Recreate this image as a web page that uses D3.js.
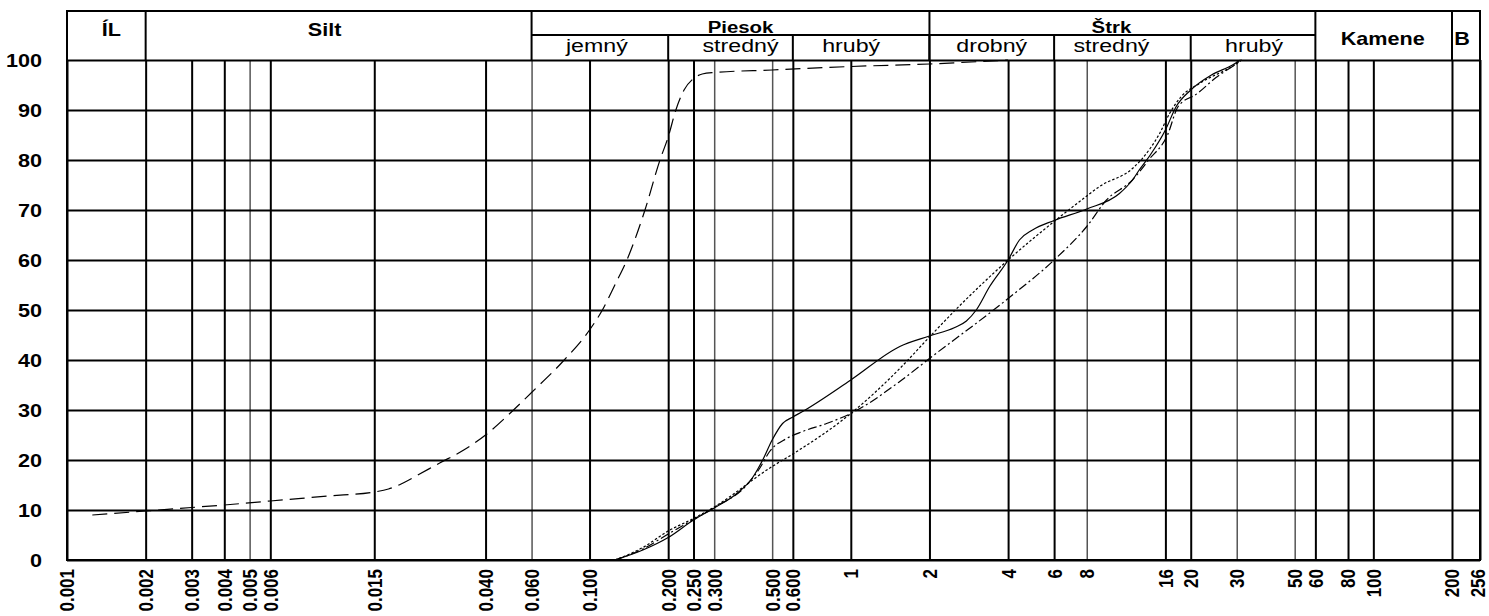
<!DOCTYPE html>
<html>
<head>
<meta charset="utf-8">
<script src="https://cdn.jsdelivr.net/npm/d3@7"></script>
<style>
  body { margin: 0; background: #fff; }
  svg { font-family: "Liberation Sans", Arial, sans-serif; }
</style>
</head>
<body>
<script>
// Grain sizes (mm) on the x axis and their labels
const sizes = [0.001, 0.002, 0.003, 0.004, 0.005, 0.006, 0.015, 0.040, 0.060, 0.100,
  0.200, 0.250, 0.300, 0.500, 0.600, 1, 2, 4, 6, 8, 16, 20, 30, 50, 60, 80, 100, 200, 256];
const sizeLabels = ["0.001", "0.002", "0.003", "0.004", "0.005", "0.006", "0.015", "0.040", "0.060", "0.100",
  "0.200", "0.250", "0.300", "0.500", "0.600", "1", "2", "4", "6", "8", "16", "20", "30", "50", "60", "80", "100", "200", "256"];
const percents = [0, 10, 20, 30, 40, 50, 60, 70, 80, 90, 100];

// Soil fractions in the header
const zoneNames = ["ÍL", "Silt", "Piesok", "Štrk", "Kamene", "B"];
const zoneEdges = [0.001, 0.002, 0.06, 2, 60, 200, 256];
const subNames = ["jemný", "stredný", "hrubý", "drobný", "stredný", "hrubý"];
const subEdges = [0.06, 0.2, 0.6, 2, 6, 20, 60];

// Grading curves: [grain size mm, passing %]
const sampleA = [[0.00125, 9], [0.002, 9.8], [0.003, 10.5], [0.004, 11], [0.006, 11.8], [0.01, 12.8],
  [0.015, 13.6], [0.017, 14.2], [0.019, 15.2], [0.022, 17], [0.0267, 19.4], [0.033, 22], [0.04, 25],
  [0.05, 29.5], [0.06, 33.5], [0.08, 40], [0.1, 46], [0.112, 50], [0.125, 55], [0.139, 60], [0.163, 70],
  [0.186, 80], [0.2, 84.6], [0.214, 90], [0.23, 94], [0.25, 96.3], [0.27, 97.2], [0.3, 97.5], [0.5, 98],
  [1, 98.7], [2, 99.2], [4, 100]];
const sampleB = [[0.125, 0], [0.16, 2], [0.2, 4.5], [0.25, 8], [0.3, 10.4], [0.36, 13], [0.421, 16.5],
  [0.46, 20], [0.5, 24], [0.548, 27.3], [0.6, 28.6], [0.654, 29.7], [1, 36], [1.54, 42.7], [2, 44.8],
  [2.5, 46.5], [2.77, 47.8], [3.02, 50], [3.4, 54.7], [4, 60], [4.42, 64], [4.96, 66], [6, 67.9], [8, 70.2],
  [10.67, 73.3], [11.97, 76], [12.7, 78], [14, 81], [16, 86], [17.6, 90.7], [20, 94], [24, 97], [28.9, 99], [31, 100]];
const sampleC = [[0.125, 0], [0.16, 2.5], [0.2, 5.8], [0.25, 8.3], [0.3, 10.6], [0.5, 18.7], [0.6, 21.2],
  [1, 29.3], [1.54, 38.3], [2, 44.6], [2.46, 49.5], [4, 60], [6, 67.7], [8, 72.8], [8.95, 74.7],
  [11.97, 78.3], [12.9, 80], [15.2, 85.3], [16.6, 89.3], [18.4, 92.7], [21.6, 95.3], [30, 99.3], [31.3, 100]];
const sampleD = [[0.125, 0], [0.16, 2.2], [0.2, 5.2], [0.25, 8.1], [0.3, 10.5], [0.4, 15], [0.45, 18.5],
  [0.489, 21.7], [0.568, 24.3], [0.654, 25.7], [0.808, 27.3], [1, 29.3], [1.54, 35.7], [2, 40.3], [4, 52.3],
  [6, 60], [8, 66.7], [9.52, 72], [11.97, 76], [13.8, 80], [16.3, 85], [17.9, 90.7], [21.2, 93.3],
  [25, 96.5], [30, 99.3], [31.3, 100]];

const width = 1489, height = 616;
const headerTop = 11, headerMid = 35;

const svg = d3.select("body").append("svg")
  .attr("width", width)
  .attr("height", height);

const x = d3.scaleLog().domain([0.001, 256]).range([67, 1480]);
const y = d3.scaleLinear().domain([0, 100]).range([560, 60]);

// thinner, lighter grid lines
const thinLines = new Set([0.005, 0.06, 0.3, 0.5, 8, 30, 50]);

// vertical grid + rotated size labels
svg.append("g")
  .attr("transform", `translate(0,${y(0)})`)
  .call(d3.axisBottom(x)
    .tickValues(sizes)
    .tickFormat((d, i) => sizeLabels[i])
    .tickSize(-(y(0) - y(100)))
    .tickSizeOuter(0))
  .call(g => g.select(".domain").remove())
  .call(g => g.selectAll(".tick line")
    .attr("stroke", d => thinLines.has(d) ? "#555" : "#000")
    .attr("stroke-width", d => thinLines.has(d) ? 1.5 : 2))
  .call(g => g.selectAll(".tick text")
    .attr("x", null).attr("y", null)
    .attr("dy", d => d === 256 ? "-0.15em" : null)
    .attr("transform", "translate(0,9) scale(1.15,1) rotate(-90)")
    .attr("text-anchor", "end")
    .attr("dominant-baseline", "central")
    .attr("fill", "#000")
    .style("font-size", "17px")
    .style("font-weight", "bold"));

// horizontal grid + percent labels
svg.append("g")
  .attr("transform", `translate(${x(0.001)},0)`)
  .call(d3.axisLeft(y)
    .tickValues(percents)
    .tickSize(-(x(256) - x(0.001)))
    .tickSizeOuter(0))
  .call(g => g.select(".domain").remove())
  .call(g => g.selectAll(".tick line").attr("stroke", "#000").attr("stroke-width", 2))
  .call(g => g.selectAll(".tick text")
    .attr("x", null)
    .attr("transform", "translate(-25,1) scale(1.2,1)")
    .attr("text-anchor", "end")
    .attr("fill", "#000")
    .style("font-size", "18px")
    .style("font-weight", "bold"));

// frame and header
const frame = svg.append("g").attr("stroke", "#000").attr("stroke-width", 2);
frame.append("line")
  .attr("x1", x(0.001) - 1).attr("x2", x(256) + 1)
  .attr("y1", headerTop).attr("y2", headerTop);
frame.append("line")
  .attr("x1", x(0.001) - 1).attr("x2", x(256) + 1)
  .attr("y1", y(0)).attr("y2", y(0));
frame.append("line")
  .attr("x1", x(0.06)).attr("x2", x(60))
  .attr("y1", headerMid).attr("y2", headerMid);
frame.selectAll(".edge")
  .data(zoneEdges)
  .join("line")
  .attr("x1", d => x(d)).attr("x2", d => x(d))
  .attr("y1", headerTop)
  .attr("y2", (d, i) => (i === 0 || i === zoneEdges.length - 1) ? y(0) : y(100));
frame.selectAll(".subedge")
  .data(subEdges.slice(1, -1))
  .join("line")
  .attr("x1", d => x(d)).attr("x2", d => x(d))
  .attr("y1", headerMid).attr("y2", y(100));

// header labels
const zoneBaseline = { "ÍL": 36, "Silt": 36, "Piesok": 33, "Štrk": 33, "Kamene": 45, "B": 45 };
const zoneShift = { "ÍL": 5, "Silt": -14, "Piesok": 10, "Štrk": -11, "Kamene": -1, "B": -4 };
const subShift = [-3, 10, -10, 0, -11, 1];

svg.append("g")
  .selectAll("text")
  .data(zoneNames)
  .join("text")
  .attr("transform", (d, i) => {
    const cx = (x(zoneEdges[i]) + x(zoneEdges[i + 1])) / 2 + zoneShift[d];
    return `translate(${cx},${zoneBaseline[d]}) scale(1.2,1)`;
  })
  .attr("text-anchor", "middle")
  .style("font-size", (d) => (d === "Piesok" || d === "Štrk") ? "17px" : "18px")
  .style("font-weight", "bold")
  .text(d => d);

svg.append("g")
  .selectAll("text")
  .data(subNames)
  .join("text")
  .attr("transform", (d, i) => {
    const cx = (x(subEdges[i]) + x(subEdges[i + 1])) / 2 + subShift[i];
    return `translate(${cx},52) scale(1.22,1)`;
  })
  .attr("text-anchor", "middle")
  .style("font-size", "19px")
  .text(d => d);

// grading curves
const line = d3.line()
  .x(d => x(d[0]))
  .y(d => y(d[1]))
  .curve(d3.curveMonotoneX);

const curves = [
  { data: sampleA, dash: "15,7" },
  { data: sampleB, dash: null },
  { data: sampleC, dash: "2.5,2" },
  { data: sampleD, dash: "9,3,2,3" }
];

svg.append("g")
  .selectAll("path")
  .data(curves)
  .join("path")
  .attr("d", d => line(d.data))
  .attr("fill", "none")
  .attr("stroke", "#000")
  .attr("stroke-width", 1.2)
  .attr("stroke-dasharray", d => d.dash);
</script>
</body>
</html>
